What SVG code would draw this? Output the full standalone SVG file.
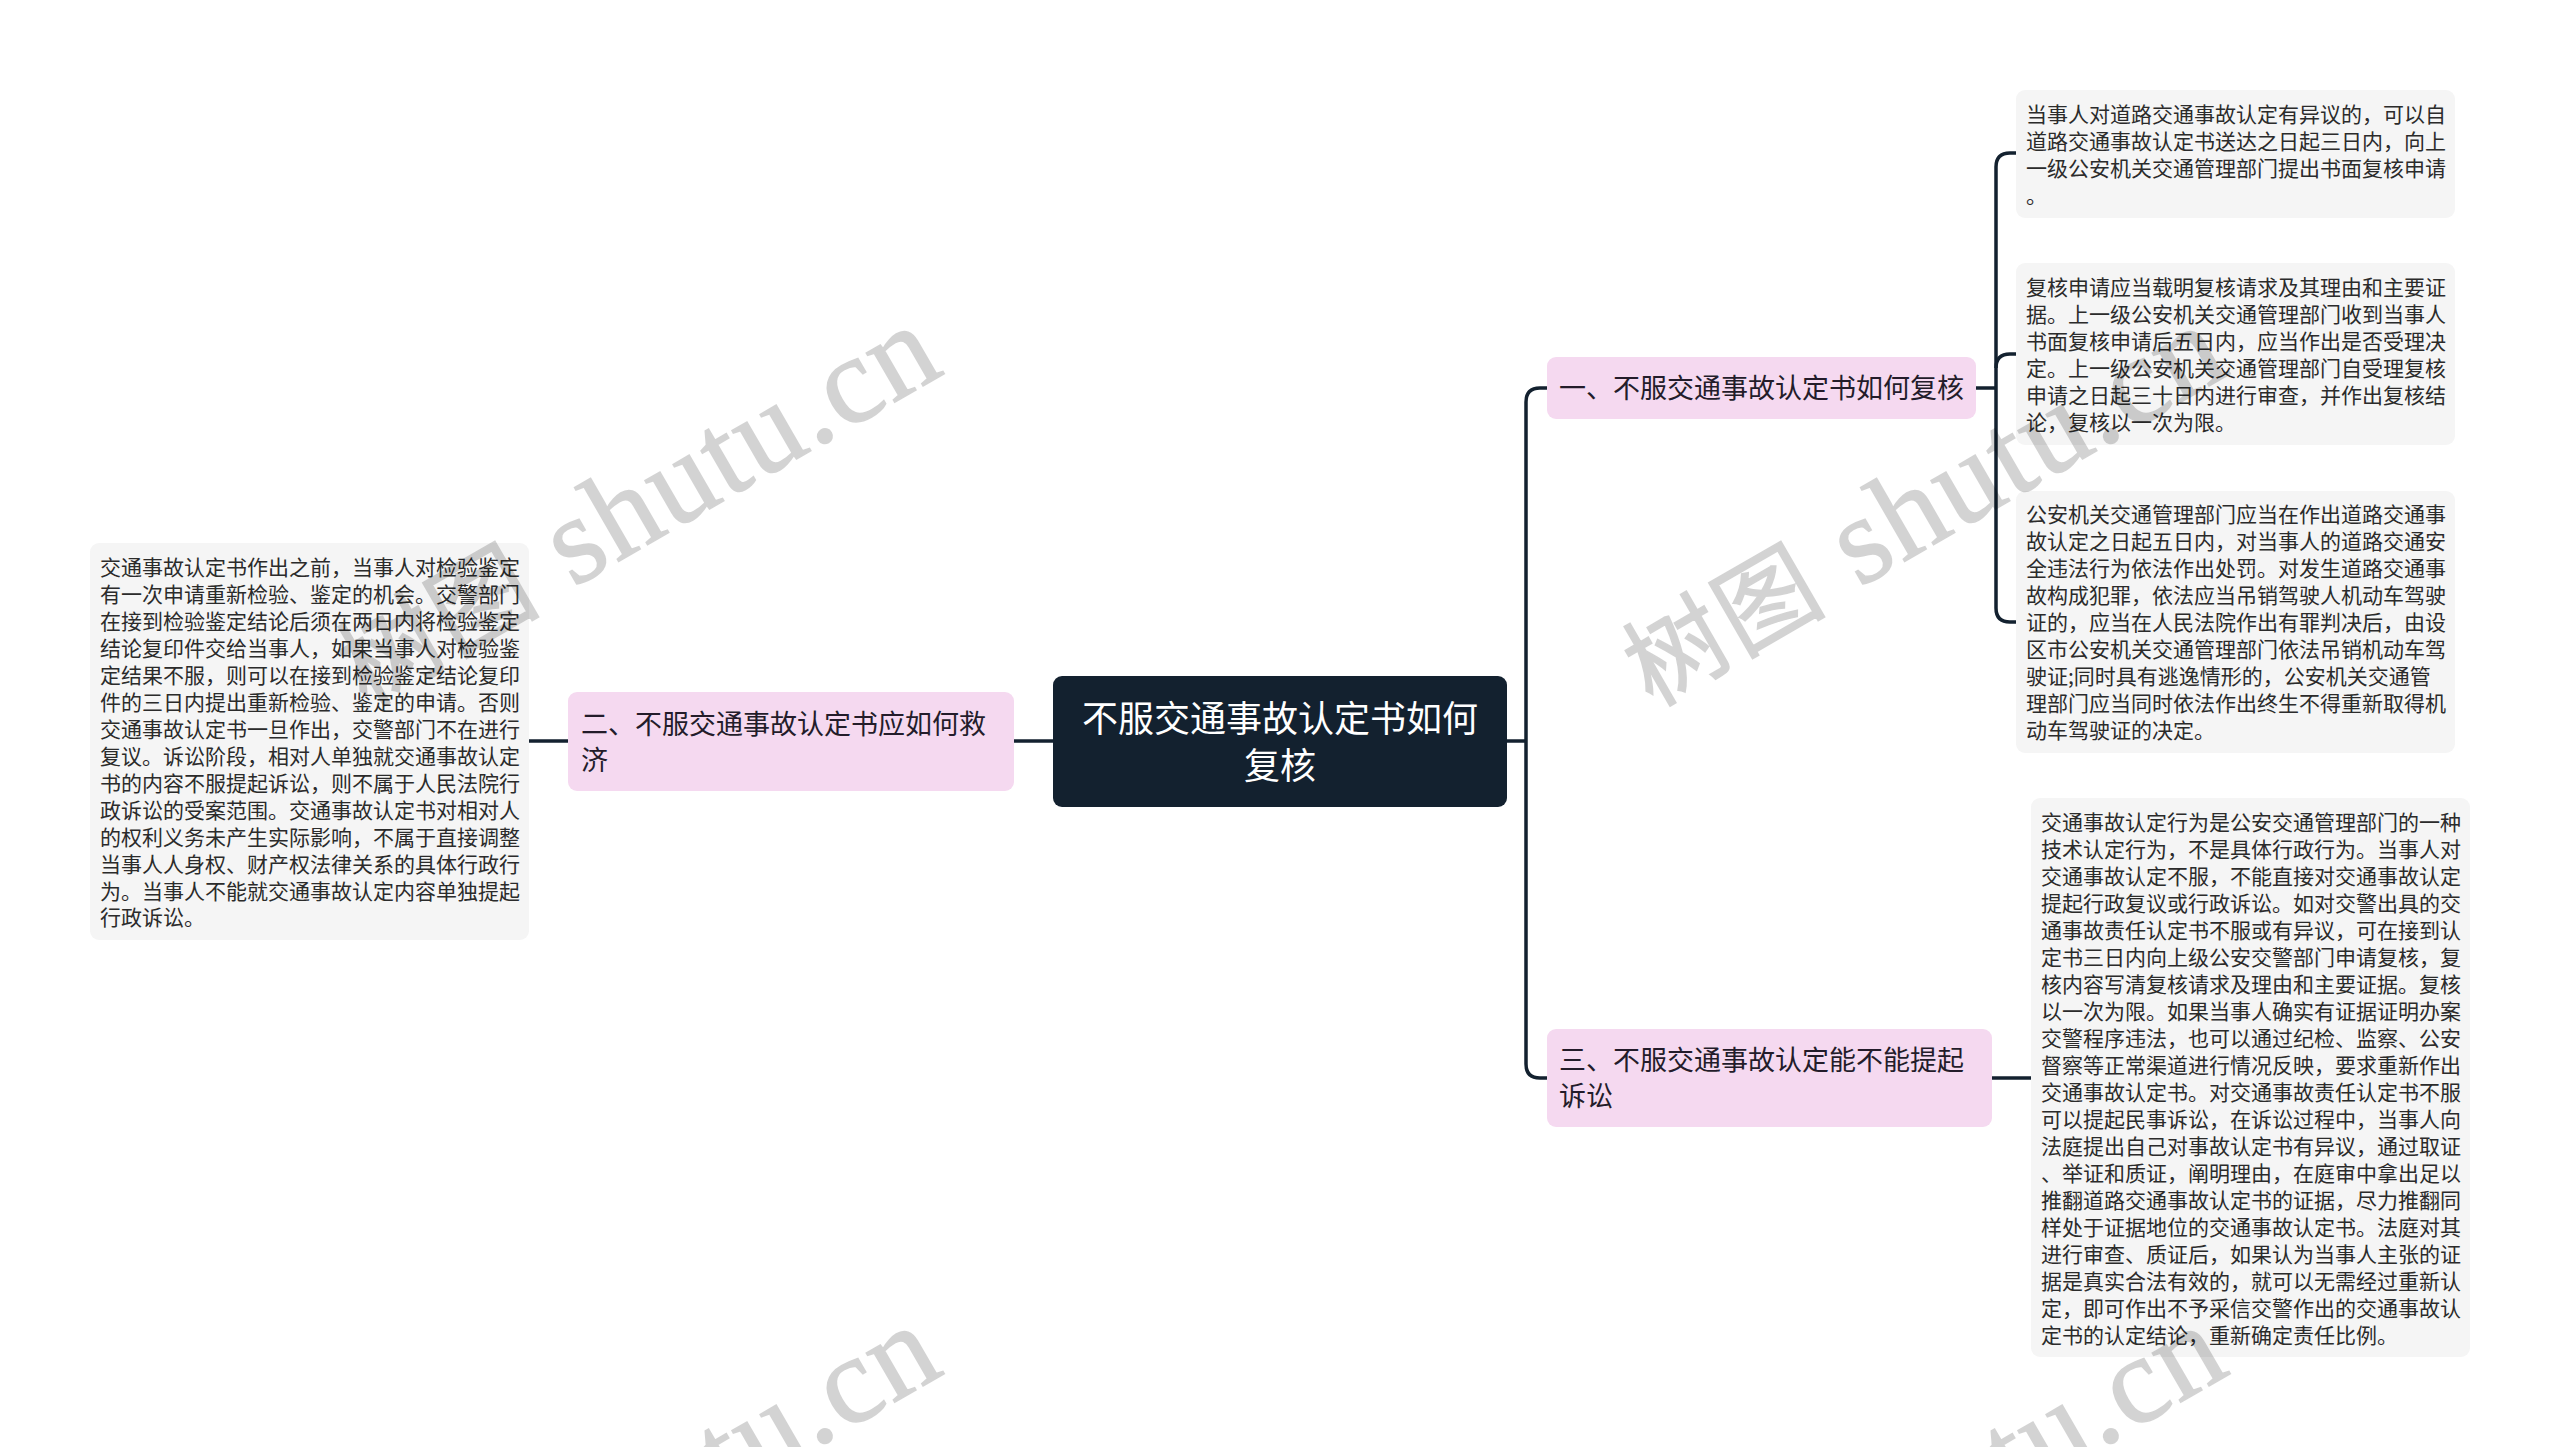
<svg xmlns="http://www.w3.org/2000/svg" width="2560" height="1447" viewBox="0 0 2560 1447">
<style>
text{font-family:"Noto Sans CJK SC","Liberation Sans",sans-serif}
.leaf rect{fill:#f5f5f5}
.leaf text{font-size:21px;fill:#2b2b2b;transform:translateY(-1.5px)}
.pink rect{fill:#f5d9f0}
.pink text{font-size:27px;fill:#231c2a}
.root rect{fill:#13212f}
.root text{font-size:36px;fill:#fff;text-anchor:middle}
#connectors path{fill:none;stroke:#13212f;stroke-width:3.5}
.wm{font-family:"Liberation Serif","Noto Sans CJK SC",serif;font-size:124px;fill:#000;stroke:#000;stroke-width:1.5px;opacity:.17;letter-spacing:2px}
.wm .cjk{font-size:100px;letter-spacing:3px}
</style>
<rect width="2560" height="1447" fill="#fff"/>
<g id="connectors">
<path d="M1507 741H1526"/>
<path d="M1547 388H1540Q1526 388 1526 402V1064Q1526 1078 1540 1078H1547"/>
<path d="M1053 741H1013"/>
<path d="M569 741H529"/>
<path d="M1976 388H1996"/>
<path d="M2016 153H2010Q1996 153 1996 167V608Q1996 622 2010 622H2016"/>
<path d="M2016 354H2010Q1996 354 1996 368"/>
<path d="M1991 1078H2031"/>
</g>
<g id="root" class="root">
<rect x="1053" y="676" width="454" height="131" rx="9"/>
<text x="1280" y="732">不服交通事故认定书如何</text>
<text x="1280" y="779">复核</text>
</g>
<g id="branch1" class="pink">
<rect x="1547" y="357" width="429" height="62" rx="9"/>
<text x="1559" y="398">一、不服交通事故认定书如何复核</text>
</g>
<g id="branch2" class="pink">
<rect x="568" y="692" width="446" height="99" rx="9"/>
<text x="581" y="734">二、不服交通事故认定书应如何救</text>
<text x="581" y="770">济</text>
</g>
<g id="branch3" class="pink">
<rect x="1547" y="1029" width="445" height="98" rx="9"/>
<text x="1559" y="1070">三、不服交通事故认定能不能提起</text>
<text x="1559" y="1106">诉讼</text>
</g>
<g id="leaf1" class="leaf">
<rect x="2016" y="90" width="439" height="128" rx="9"/>
<text x="2026" y="123">当事人对道路交通事故认定有异议的&#65292;可以自</text>
<text x="2026" y="150">道路交通事故认定书送达之日起三日内&#65292;向上</text>
<text x="2026" y="177">一级公安机关交通管理部门提出书面复核申请</text>
<text x="2026" y="204">。</text>
</g>
<g id="leaf2" class="leaf">
<rect x="2016" y="263" width="439" height="182" rx="9"/>
<text x="2026" y="296">复核申请应当载明复核请求及其理由和主要证</text>
<text x="2026" y="323">据。上一级公安机关交通管理部门收到当事人</text>
<text x="2026" y="350">书面复核申请后五日内&#65292;应当作出是否受理决</text>
<text x="2026" y="377">定。上一级公安机关交通管理部门自受理复核</text>
<text x="2026" y="404">申请之日起三十日内进行审查&#65292;并作出复核结</text>
<text x="2026" y="431">论&#65292;复核以一次为限。</text>
</g>
<g id="leaf3" class="leaf">
<rect x="2016" y="491" width="439" height="262" rx="9"/>
<text x="2026" y="523">公安机关交通管理部门应当在作出道路交通事</text>
<text x="2026" y="550">故认定之日起五日内&#65292;对当事人的道路交通安</text>
<text x="2026" y="577">全违法行为依法作出处罚。对发生道路交通事</text>
<text x="2026" y="604">故构成犯罪&#65292;依法应当吊销驾驶人机动车驾驶</text>
<text x="2026" y="631">证的&#65292;应当在人民法院作出有罪判决后&#65292;由设</text>
<text x="2026" y="658">区市公安机关交通管理部门依法吊销机动车驾</text>
<text x="2026" y="685">驶证;同时具有逃逸情形的&#65292;公安机关交通管</text>
<text x="2026" y="712">理部门应当同时依法作出终生不得重新取得机</text>
<text x="2026" y="739">动车驾驶证的决定。</text>
</g>
<g id="leaf4" class="leaf">
<rect x="2031" y="798" width="439" height="559" rx="9"/>
<text x="2041" y="831">交通事故认定行为是公安交通管理部门的一种</text>
<text x="2041" y="858">技术认定行为&#65292;不是具体行政行为。当事人对</text>
<text x="2041" y="885">交通事故认定不服&#65292;不能直接对交通事故认定</text>
<text x="2041" y="912">提起行政复议或行政诉讼。如对交警出具的交</text>
<text x="2041" y="939">通事故责任认定书不服或有异议&#65292;可在接到认</text>
<text x="2041" y="966">定书三日内向上级公安交警部门申请复核&#65292;复</text>
<text x="2041" y="993">核内容写清复核请求及理由和主要证据。复核</text>
<text x="2041" y="1020">以一次为限。如果当事人确实有证据证明办案</text>
<text x="2041" y="1047">交警程序违法&#65292;也可以通过纪检、监察、公安</text>
<text x="2041" y="1074">督察等正常渠道进行情况反映&#65292;要求重新作出</text>
<text x="2041" y="1101">交通事故认定书。对交通事故责任认定书不服</text>
<text x="2041" y="1128">可以提起民事诉讼&#65292;在诉讼过程中&#65292;当事人向</text>
<text x="2041" y="1155">法庭提出自己对事故认定书有异议&#65292;通过取证</text>
<text x="2041" y="1182">、举证和质证&#65292;阐明理由&#65292;在庭审中拿出足以</text>
<text x="2041" y="1209">推翻道路交通事故认定书的证据&#65292;尽力推翻同</text>
<text x="2041" y="1236">样处于证据地位的交通事故认定书。法庭对其</text>
<text x="2041" y="1263">进行审查、质证后&#65292;如果认为当事人主张的证</text>
<text x="2041" y="1290">据是真实合法有效的&#65292;就可以无需经过重新认</text>
<text x="2041" y="1317">定&#65292;即可作出不予采信交警作出的交通事故认</text>
<text x="2041" y="1344">定书的认定结论&#65292;重新确定责任比例。</text>
</g>
<g id="leaf5" class="leaf">
<rect x="90" y="543" width="439" height="397" rx="9"/>
<text x="100" y="576">交通事故认定书作出之前&#65292;当事人对检验鉴定</text>
<text x="100" y="603">有一次申请重新检验、鉴定的机会。交警部门</text>
<text x="100" y="630">在接到检验鉴定结论后须在两日内将检验鉴定</text>
<text x="100" y="657">结论复印件交给当事人&#65292;如果当事人对检验鉴</text>
<text x="100" y="684">定结果不服&#65292;则可以在接到检验鉴定结论复印</text>
<text x="100" y="711">件的三日内提出重新检验、鉴定的申请。否则</text>
<text x="100" y="738">交通事故认定书一旦作出&#65292;交警部门不在进行</text>
<text x="100" y="765">复议。诉讼阶段&#65292;相对人单独就交通事故认定</text>
<text x="100" y="792">书的内容不服提起诉讼&#65292;则不属于人民法院行</text>
<text x="100" y="819">政诉讼的受案范围。交通事故认定书对相对人</text>
<text x="100" y="846">的权利义务未产生实际影响&#65292;不属于直接调整</text>
<text x="100" y="873">当事人人身权、财产权法律关系的具体行政行</text>
<text x="100" y="900">为。当事人不能就交通事故认定内容单独提起</text>
<text x="100" y="926">行政诉讼。</text>
</g>
<g id="watermark">
<text class="wm" transform="translate(366 707.5) rotate(-30)"><tspan class="cjk">树图</tspan><tspan> shutu.cn</tspan></text>
<text class="wm" transform="translate(1652 707.5) rotate(-30)"><tspan class="cjk">树图</tspan><tspan> shutu.cn</tspan></text>
<text class="wm" transform="translate(366 1707.5) rotate(-30)"><tspan class="cjk">树图</tspan><tspan> shutu.cn</tspan></text>
<text class="wm" transform="translate(1652 1707.5) rotate(-30)"><tspan class="cjk">树图</tspan><tspan> shutu.cn</tspan></text>
</g>
</svg>
